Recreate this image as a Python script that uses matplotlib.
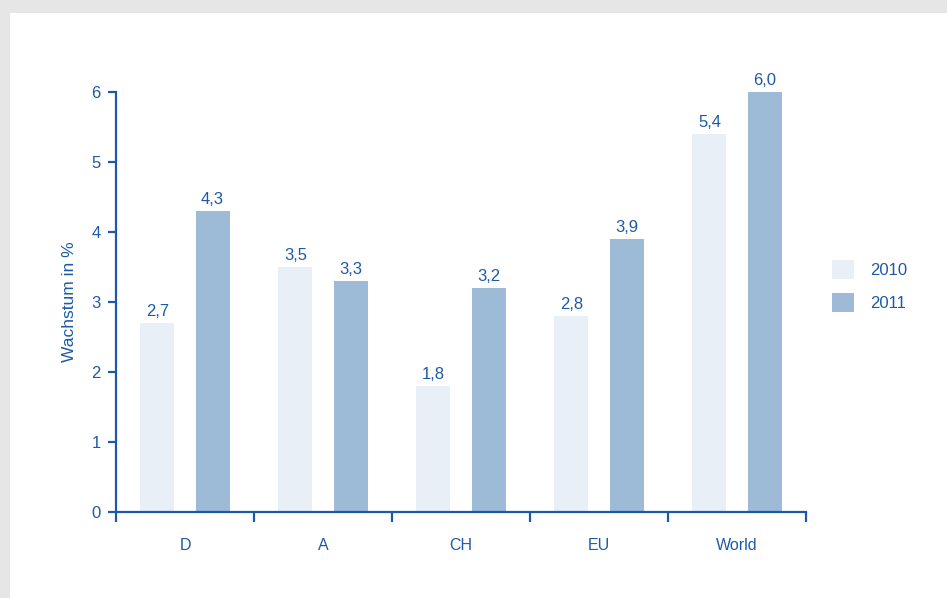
import numpy as np
import matplotlib.pyplot as plt
from matplotlib.patches import Rectangle

# data
categories = ['D', 'A', 'CH', 'EU', 'World']
years = ['2010', '2011']
vals_2010 = [2.7, 3.5, 1.8, 2.8, 5.4]
vals_2011 = [4.3, 3.3, 3.2, 3.9, 6.0]

blue = '#1d5aa6'
c2010 = '#e9eff7'
c2011 = '#9dbad7'

plt.rcParams['font.family'] = ['Liberation Sans', 'DejaVu Sans']
fs = 12

fig = plt.figure(figsize=(9.47, 5.98), dpi=100, facecolor='#e6e6e6')
# white panel with the grey frame top/left
fig.patches.append(Rectangle((10 / 947, 0), 1, (598 - 13) / 598, transform=fig.transFigure,
                             facecolor='white', edgecolor='none', zorder=-10))

ax = fig.add_axes([116 / 947, 86 / 598, 690 / 947, 420 / 598])
ax.set_facecolor('none')

x = np.arange(len(categories)) + 0.5
w = 0.246
b1 = ax.bar(x - 0.2, vals_2010, w, color=c2010, label=years[0])
b2 = ax.bar(x + 0.2, vals_2011, w, color=c2011, label=years[1])

for bars, vals in [(b1, vals_2010), (b2, vals_2011)]:
    for rect, v in zip(bars, vals):
        ax.annotate(f'{v:.1f}'.replace('.', ','), (rect.get_x() + rect.get_width() / 2, v),
                    xytext=(0, 3), textcoords='offset points', ha='center', va='bottom',
                    color=blue, fontsize=fs)

ax.set_xlim(0, 5)
ax.set_ylim(0, 6)

for s in ['top', 'right']:
    ax.spines[s].set_visible(False)
for s in ['left', 'bottom']:
    ax.spines[s].set_color(blue)
    ax.spines[s].set_linewidth(1.6)

ax.set_yticks(range(7))
ax.tick_params(axis='y', colors=blue, labelcolor=blue, labelsize=fs, length=6, width=1.6, pad=5)
ax.set_xticks(range(6))
ax.set_xticklabels([])
ax.set_xticks(x, minor=True)
ax.set_xticklabels(categories, minor=True)
ax.tick_params(axis='x', which='major', colors=blue, length=7, width=1.6)
ax.tick_params(axis='x', which='minor', length=0, labelcolor=blue, labelsize=11.5, pad=18.5)

ax.set_ylabel('Wachstum in %', color=blue, fontsize=12.5, labelpad=10)

ax.legend(frameon=False, fontsize=fs, labelcolor=blue, loc='upper left',
          bbox_to_anchor=(832 / 947, 1 - 260 / 598), bbox_transform=fig.transFigure,
          borderpad=0, borderaxespad=0, handlelength=1.3, handleheight=1.4,
          handletextpad=1.0, labelspacing=0.8)

fig.savefig('out.png', dpi=100, facecolor=fig.get_facecolor())
